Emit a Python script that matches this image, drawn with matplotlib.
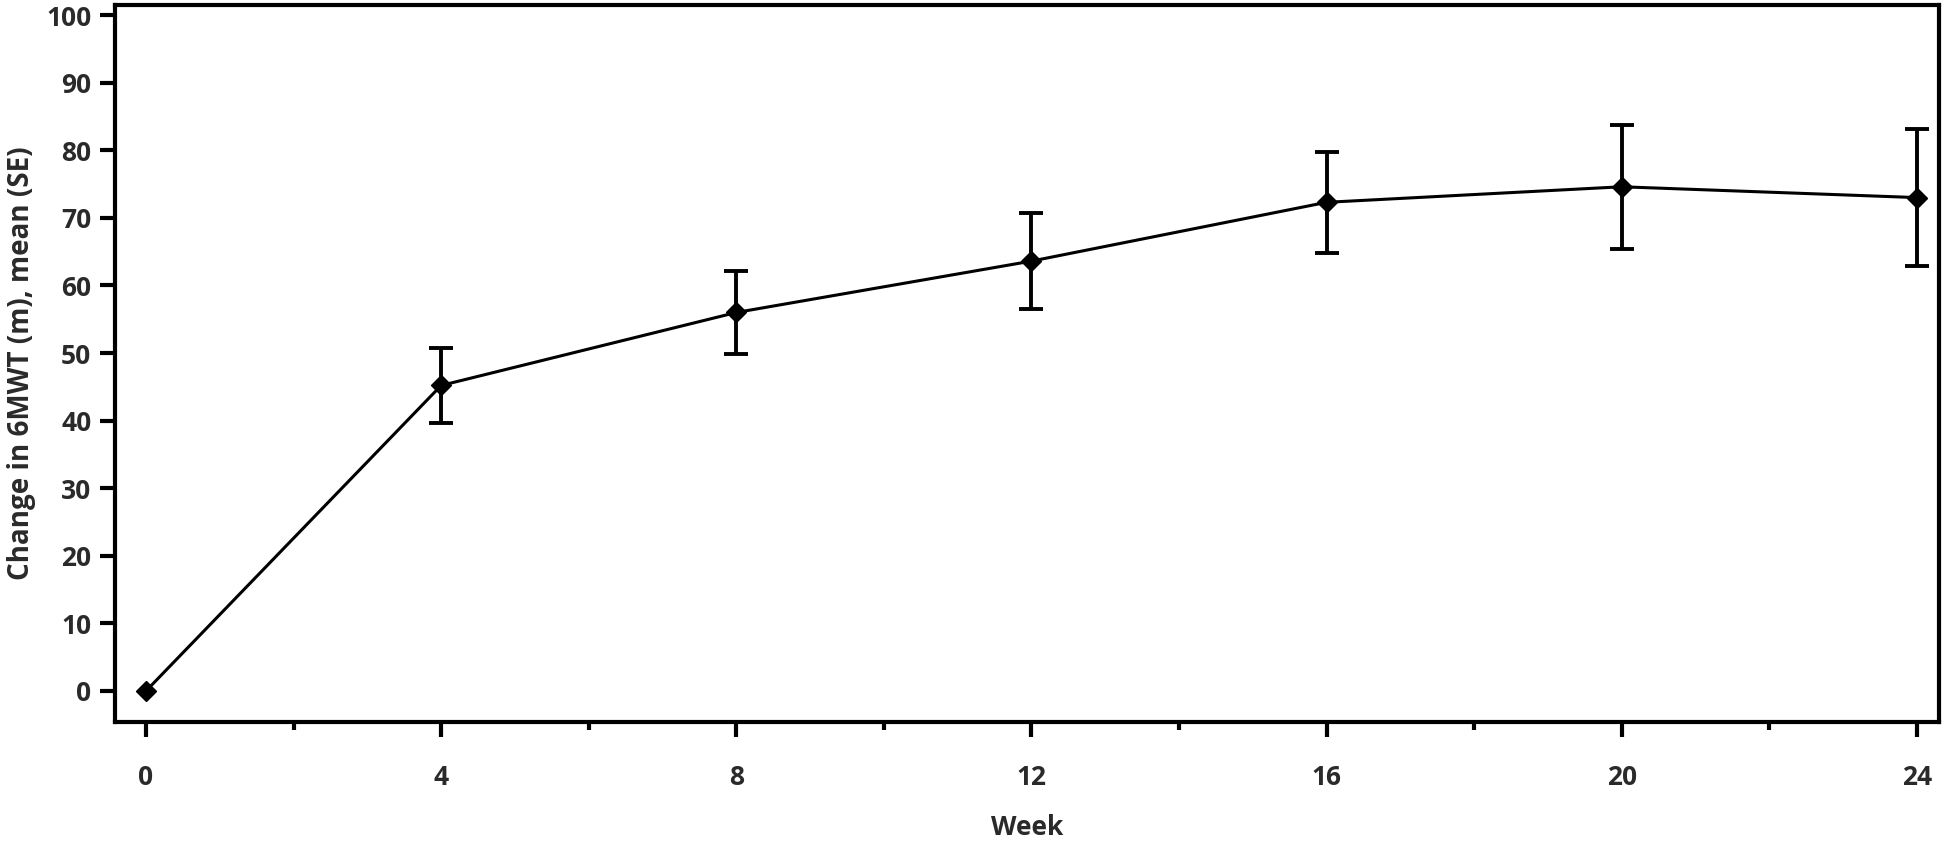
import matplotlib
matplotlib.use("Agg")
import matplotlib.pyplot as plt
from matplotlib.ticker import MultipleLocator

weeks = [0, 4, 8, 12, 16, 20, 24]
mean_change = [0.0, 45.2, 56.0, 63.6, 72.3, 74.6, 73.0]
se = [0.0, 5.6, 6.1, 7.1, 7.5, 9.2, 10.1]
x_ticks = [0, 4, 8, 12, 16, 20, 24]
y_ticks = [0, 10, 20, 30, 40, 50, 60, 70, 80, 90, 100]

plt.rcParams['font.family'] = ['Open Sans', 'DejaVu Sans']

fig = plt.figure(figsize=(19.46, 8.43), dpi=100)
ax = fig.add_axes([0.0591, 0.1435, 0.9373, 0.8506])

# connecting line
ax.plot(weeks, mean_change, '-', color='black', linewidth=2.2, zorder=2)
# error bars (baseline week 0 has no SE bar)
ax.errorbar(weeks[1:], mean_change[1:], yerr=se[1:], fmt='none', ecolor='black',
            elinewidth=2.8, capsize=8.5, capthick=2.8, zorder=2)
ax.plot(weeks, mean_change, linestyle='none', marker='D', markersize=10.5,
        color='black', zorder=3)

ax.set_xlim(-0.42, 24.3)
ax.set_ylim(-4.6, 101.5)
ax.set_xticks(x_ticks)
ax.set_yticks(y_ticks)
ax.xaxis.set_minor_locator(MultipleLocator(2))

for s in ax.spines.values():
    s.set_linewidth(3)
    s.set_color('black')

txt_color = '#2a2a2a'
ax.tick_params(axis='both', which='major', direction='out', length=11, width=3,
               labelsize=19, colors='black', labelcolor=txt_color)
ax.tick_params(axis='x', which='major', pad=19)
ax.tick_params(axis='y', which='major', pad=6)
ax.tick_params(axis='x', which='minor', direction='out', length=6, width=3, colors='black')
for lbl in ax.get_xticklabels() + ax.get_yticklabels():
    lbl.set_fontweight('bold')

ax.set_xlabel('Week', fontsize=19, fontweight='bold', color=txt_color, labelpad=17)
ax.set_ylabel('Change in 6MWT (m), mean (SE)', fontsize=20, fontweight='bold',
              color=txt_color, labelpad=7)

fig.savefig('out.png', dpi=100)
